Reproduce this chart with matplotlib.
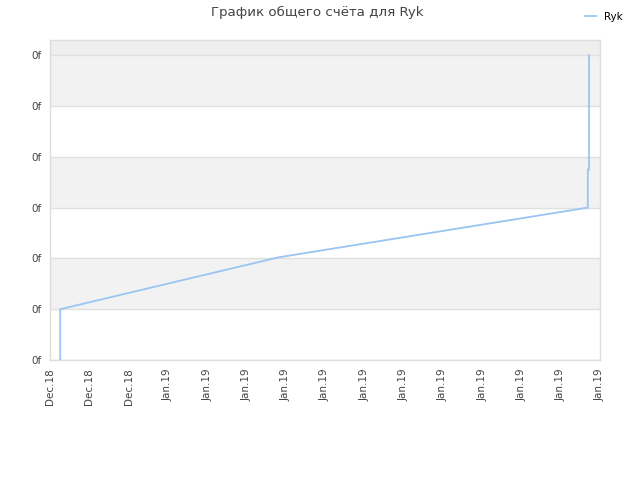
import matplotlib
matplotlib.use("Agg")
import matplotlib.pyplot as plt

# Data (x in tick-index units, y in score units)
x_vals = [0.26, 0.26, 5.81, 13.69, 13.69, 13.72, 13.72]
y_vals = [0.0, 1.0, 2.02, 3.0, 3.75, 3.75, 6.0]
x_tick_labels = ["Dec.18", "Dec.18", "Dec.18"] + ["Jan.19"] * 12
y_tick_labels = ["0f"] * 7
series_name = "Ryk"
title = "График общего счёта для Ryk"

fig = plt.figure(figsize=(6.4, 4.8), dpi=100)
ax = fig.add_axes([50/640, 120/480, 550/640, 320/480])

ax.set_xlim(0, 14)
ax.set_ylim(0, 6.3)

# alternating bands
ax.axhspan(6, 6.3, color="#eeeeee", zorder=0, lw=0)
for i in range(6):
    if i % 2 == 1:
        ax.axhspan(i, i + 1, color="#f2f2f2", zorder=0, lw=0)
for i in range(7):
    ax.axhline(i, color="#e0e0e0", lw=1, zorder=1)

ax.plot(x_vals, y_vals, color="#99c5f2", lw=1.3, zorder=3, label=series_name)

ax.set_xticks(range(len(x_tick_labels)))
ax.set_xticklabels(x_tick_labels, rotation=90, fontsize=7.5, color="#444444")
ax.set_yticks(range(len(y_tick_labels)))
ax.set_yticklabels(y_tick_labels, fontsize=7.5, color="#444444")
ax.tick_params(length=0, pad=6)

for s in ax.spines.values():
    s.set_color("#dddddd")
    s.set_linewidth(1)

fig.text(0.496, 0.988, title, ha="center", va="top", fontsize=9.6, color="#444444")
leg = fig.legend(loc="upper right", bbox_to_anchor=(0.988, 0.995), frameon=False,
                 fontsize=7.5, handlelength=1.0, handletextpad=0.8)

fig.savefig("out.png", dpi=100)
